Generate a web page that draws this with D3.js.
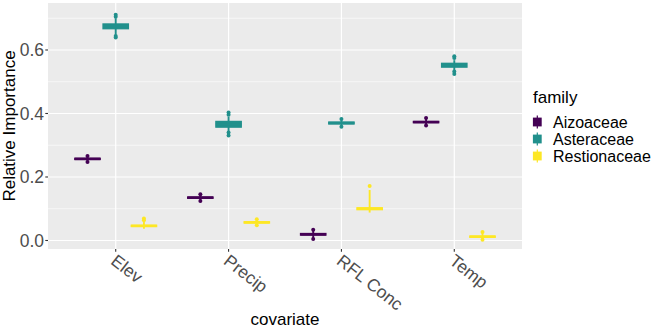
<!DOCTYPE html>
<html>
<head>
<meta charset="utf-8">
<script src="https://cdn.jsdelivr.net/npm/d3@7"></script>
<style>
  body { margin: 0; background: #fff; }
  text { font-family: "Liberation Sans", Arial, sans-serif; }
</style>
</head>
<body>
<div id="chart"></div>
<script>
// covariates on the x axis, families as dodged boxes
var covariates = ["Elev", "Precip", "RFL Conc", "Temp"];
var families = ["Aizoaceae", "Asteraceae", "Restionaceae"];
var colours = ["#440154", "#21908C", "#FDE725"];
var yTicks = [0.0, 0.2, 0.4, 0.6];
var yMinor = [0.1, 0.3, 0.5, 0.7];

// box stats per covariate: lower whisker, q1, median, q3, upper whisker
var aizoLo  = [0.249, 0.126, 0.007, 0.364];
var aizoQ1  = [0.255, 0.133, 0.017, 0.371];
var aizoMed = [0.257, 0.135, 0.0195, 0.373];
var aizoQ3  = [0.259, 0.137, 0.022, 0.375];
var aizoHi  = [0.264, 0.144, 0.032, 0.384];
var aizoOut = [[0.266, 0.247], [0.146, 0.124], [0.034, 0.005], [0.386, 0.362]];

var asterLo  = [0.648, 0.344, 0.360, 0.536];
var asterQ1  = [0.667, 0.357, 0.367, 0.546];
var asterMed = [0.675, 0.366, 0.370, 0.552];
var asterQ3  = [0.682, 0.375, 0.373, 0.558];
var asterHi  = [0.700, 0.390, 0.380, 0.568];
var asterOut = [[0.711, 0.705, 0.644, 0.639], [0.403, 0.396, 0.340, 0.331], [0.383, 0.358], [0.580, 0.575, 0.532, 0.524]];

var restLo  = [0.037, 0.049, 0.088, 0.003];
var restQ1  = [0.044, 0.055, 0.097, 0.010];
var restMed = [0.046, 0.057, 0.100, 0.012];
var restQ3  = [0.048, 0.059, 0.103, 0.014];
var restHi  = [0.058, 0.065, 0.159, 0.025];
var restOut = [[0.069, 0.064], [0.067, 0.048], [0.172], [0.027, 0.002]];

var stats = [
  [aizoLo, aizoQ1, aizoMed, aizoQ3, aizoHi, aizoOut],
  [asterLo, asterQ1, asterMed, asterQ3, asterHi, asterOut],
  [restLo, restQ1, restMed, restQ3, restHi, restOut]
];

var boxes = [];
families.forEach(function(f, fi) {
  covariates.forEach(function(c, ci) {
    var s = stats[fi];
    boxes.push({family: f, fi: fi, covariate: c,
      lo: s[0][ci], q1: s[1][ci], med: s[2][ci], q3: s[3][ci], hi: s[4][ci], out: s[5][ci]});
  });
});

var W = 664, H = 332;
var panel = {left: 48, right: 522, top: 3, bottom: 249};

var svg = d3.select("#chart").append("svg")
  .attr("width", W).attr("height", H);

var x = d3.scalePoint()
  .domain(covariates)
  .range([panel.left, panel.right])
  .padding(0.6);
var step = x.step();

var y = d3.scaleLinear()
  .domain([-0.0268, 0.748])
  .range([panel.bottom, panel.top]);

var color = d3.scaleOrdinal().domain(families).range(colours);

// panel background and grid
svg.append("rect")
  .attr("x", panel.left).attr("y", panel.top)
  .attr("width", panel.right - panel.left).attr("height", panel.bottom - panel.top)
  .attr("fill", "#EBEBEB");

svg.append("g").selectAll("line").data(yMinor).enter().append("line")
  .attr("x1", panel.left).attr("x2", panel.right)
  .attr("y1", function(d) { return y(d); }).attr("y2", function(d) { return y(d); })
  .attr("stroke", "#fff").attr("stroke-width", 0.6);

svg.append("g").selectAll("line").data(yTicks).enter().append("line")
  .attr("x1", panel.left).attr("x2", panel.right)
  .attr("y1", function(d) { return y(d); }).attr("y2", function(d) { return y(d); })
  .attr("stroke", "#fff").attr("stroke-width", 1.2);

svg.append("g").selectAll("line").data(covariates).enter().append("line")
  .attr("x1", function(d) { return x(d); }).attr("x2", function(d) { return x(d); })
  .attr("y1", panel.top).attr("y2", panel.bottom)
  .attr("stroke", "#fff").attr("stroke-width", 1.2);

// boxplots
var dodge = 0.25 * step, boxW = 0.225 * step;
var g = svg.append("g").selectAll("g").data(boxes).enter().append("g")
  .attr("transform", function(d) { return "translate(" + (x(d.covariate) + (d.fi - 1) * dodge) + ",0)"; });

g.append("line")
  .attr("x1", 0).attr("x2", 0)
  .attr("y1", function(d) { return y(d.hi); }).attr("y2", function(d) { return y(d.lo); })
  .attr("stroke", function(d) { return color(d.family); })
  .attr("stroke-width", 1.9);

g.append("rect")
  .attr("x", -boxW / 2).attr("width", boxW)
  .attr("y", function(d) { return y(d.q3); })
  .attr("height", function(d) { return y(d.q1) - y(d.q3); })
  .attr("fill", function(d) { return color(d.family); })
  .attr("stroke", function(d) { return color(d.family); })
  .attr("stroke-width", 1.3);

g.append("line")
  .attr("x1", -boxW / 2).attr("x2", boxW / 2)
  .attr("y1", function(d) { return y(d.med); }).attr("y2", function(d) { return y(d.med); })
  .attr("stroke", function(d) { return color(d.family); })
  .attr("stroke-width", 2.4);

g.selectAll("circle").data(function(d) { return d.out.map(function(v) { return {v: v, family: d.family}; }); })
  .enter().append("circle")
  .attr("cx", 0).attr("cy", function(d) { return y(d.v); })
  .attr("r", 2)
  .attr("fill", function(d) { return color(d.family); });

// y axis
var yAxis = svg.append("g");
yAxis.selectAll("line").data(yTicks).enter().append("line")
  .attr("x1", panel.left - 2.7).attr("x2", panel.left)
  .attr("y1", function(d) { return y(d); }).attr("y2", function(d) { return y(d); })
  .attr("stroke", "#333333").attr("stroke-width", 1.1);
yAxis.selectAll("text").data(yTicks).enter().append("text")
  .attr("x", panel.left - 4)
  .attr("y", function(d) { return y(d); })
  .attr("dy", "0.36em")
  .attr("text-anchor", "end")
  .attr("fill", "#4D4D4D")
  .style("font-size", "17.5px")
  .text(d3.format(".1f"));

// x axis
var xAxis = svg.append("g");
xAxis.selectAll("line").data(covariates).enter().append("line")
  .attr("x1", function(d) { return x(d); }).attr("x2", function(d) { return x(d); })
  .attr("y1", panel.bottom).attr("y2", panel.bottom + 2.7)
  .attr("stroke", "#333333").attr("stroke-width", 1.1);
xAxis.selectAll("text").data(covariates).enter().append("text")
  .attr("transform", function(d) { return "translate(" + (x(d) - 6) + "," + 263 + ") rotate(38)"; })
  .attr("text-anchor", "start")
  .attr("fill", "#4D4D4D")
  .style("font-size", "17.5px")
  .text(function(d) { return d; });

// axis titles
svg.append("text")
  .attr("x", (panel.left + panel.right) / 2).attr("y", 325)
  .attr("text-anchor", "middle")
  .style("font-size", "17px")
  .text("covariate");

svg.append("text")
  .attr("transform", "translate(15," + ((panel.top + panel.bottom) / 2) + ") rotate(-90)")
  .attr("text-anchor", "middle")
  .style("font-size", "17px")
  .text("Relative Importance");

// legend
var legend = svg.append("g").attr("transform", "translate(533,0)");
legend.append("text")
  .attr("x", 0).attr("y", 103)
  .style("font-size", "17px")
  .text("family");

var item = legend.selectAll("g.item").data(families).enter().append("g")
  .attr("class", "item")
  .attr("transform", function(d, i) { return "translate(4.3," + (122 + i * 17) + ")"; });
item.append("line")
  .attr("x1", 0).attr("x2", 0).attr("y1", -6.6).attr("y2", 6.6)
  .attr("stroke", function(d) { return color(d); }).attr("stroke-width", 1.2);
item.append("rect")
  .attr("x", -4.4).attr("y", -4.4).attr("width", 8.8).attr("height", 8.8)
  .attr("fill", function(d) { return color(d); });
item.append("text")
  .attr("x", 15.7).attr("y", 0).attr("dy", "0.36em")
  .style("font-size", "16px")
  .text(function(d) { return d; });
</script>
</body>
</html>
